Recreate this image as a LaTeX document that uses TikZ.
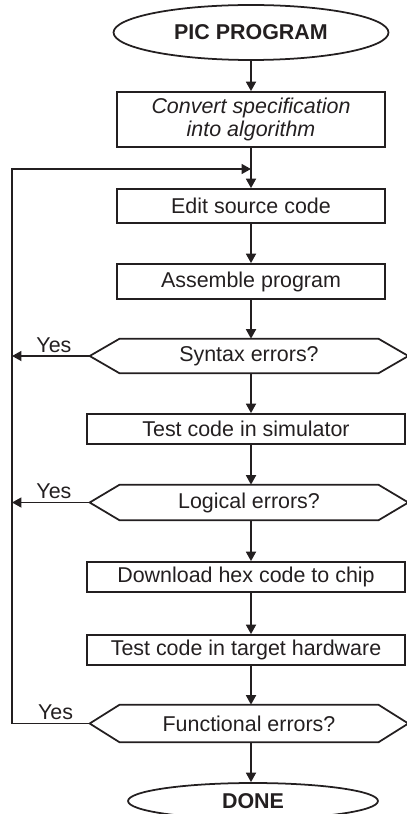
\documentclass[tikz,border=0pt]{standalone}
\usepackage{fontspec}
\setmainfont{Liberation Sans}
\usepackage{tikz}
\usetikzlibrary{arrows.meta,shapes.geometric,positioning,calc}
\definecolor{fcLine}{HTML}{231F20}

% hexagonal decision outline round a (plain) node
\newcommand{\decisionhex}[1]{%
  \draw[flow] (#1.west) -- ([xshift=0.6cm]#1.north west) -- ([xshift=-0.6cm]#1.north east)
    -- (#1.east) -- ([xshift=-0.6cm]#1.south east) -- ([xshift=0.6cm]#1.south west) -- cycle;}

\begin{document}
\begin{tikzpicture}[x=0.02cm, y=-0.02cm, >={Triangle[length=0.19cm, width=0.2cm]},
    line join=miter, font=\fontsize{12.2}{13.5}\selectfont, text=fcLine,
    flow/.style={draw=fcLine, line width=1pt},
    terminal/.style={flow, ellipse, inner sep=0pt, font=\fontsize{12.2}{13.5}\selectfont\bfseries},
    process/.style={flow, rectangle, inner sep=0pt, minimum width=5.36cm},
    wideproc/.style={flow, rectangle, inner sep=0pt, minimum width=6.36cm, minimum height=0.6cm},
    decision/.style={rectangle, inner sep=0pt, minimum width=6.36cm},
    yeslabel/.style={above, inner sep=1.5pt}]
    \useasboundingbox (0,0) rectangle (406,814);

    % ── main column ───────────────────────────────────────────────────────
    \node[terminal, minimum width=5.5cm, minimum height=1.1cm] (start) at (251,32.5) {PIC PROGRAM};
    \node[process, minimum height=1.1cm, align=center, font=\fontsize{12.2}{13.5}\selectfont\itshape]
      (conv) at (251,119.5) {Convert specification\\into algorithm};
    \node[process, minimum height=0.68cm] (edit) at (251,206) {Edit source code};
    \node[process, minimum height=0.7cm] (asm) at (251,281.5) {Assemble program};
    \node[decision, minimum height=0.68cm] (syn) at (249,356) {Syntax errors?};
    \node[wideproc] (sim) at (246,429) {Test code in simulator};
    \node[decision, minimum height=0.7cm] (logic) at (249,502.5) {Logical errors?};
    \node[wideproc] (dl) at (246,577) {Download hex code to chip};
    \node[wideproc] (tgt) at (246,650) {Test code in target hardware};
    \node[decision, minimum height=0.74cm] (func) at (249,723.5) {Functional errors?};
    \node[terminal, minimum width=5cm, minimum height=0.72cm] (done) at (253,801) {DONE};

    \decisionhex{syn}
    \decisionhex{logic}
    \decisionhex{func}

    % ── straight-down arrows ──────────────────────────────────────────────
    \foreach \a/\b in {start/conv,conv/edit,edit/asm,asm/syn,syn/sim,
                       sim/logic,logic/dl,dl/tgt,tgt/func,func/done}
      \draw[flow, ->] (\a.south -| start) -- (\b.north -| start);

    % ── error loop back to editing ─────────────────────────────────────────
    \coordinate (loopL) at (12,169);
    \coordinate (join) at (251,169);
    \draw[flow, ->] (func.west) -| node[yeslabel, pos=0.22] {Yes} (loopL) -- (join);
    \draw[flow, ->] (syn.west) -- node[yeslabel, pos=0.46] {Yes} (syn.west -| loopL);
    \draw[flow, ->] (logic.west) -- node[yeslabel, pos=0.46] {Yes} (logic.west -| loopL);
\end{tikzpicture}
\end{document}
